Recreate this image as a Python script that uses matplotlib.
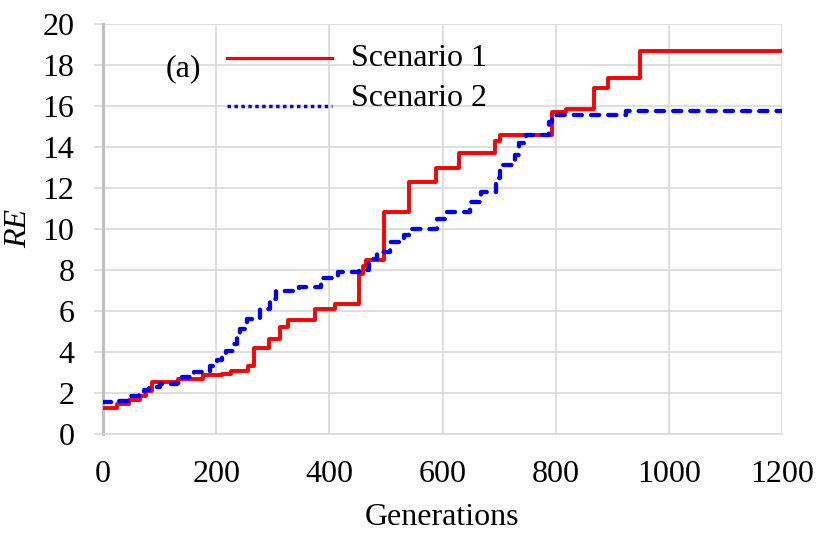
import matplotlib
matplotlib.use("Agg")
import numpy as np
import matplotlib.pyplot as plt
from matplotlib.lines import Line2D

# ---- data ----
gen_s1 = [0, 25, 46, 65, 76, 86, 133, 177, 210, 227, 256, 266, 294, 313, 327,
          375, 410, 453, 460, 465, 497, 541, 588, 629, 693, 701, 793, 818,
          868, 893, 949, 1200]
re_s1 = [1.25, 1.46, 1.67, 1.87, 2.1, 2.55, 2.68, 2.88, 2.95, 3.05, 3.33, 4.18,
         4.63, 5.2, 5.55, 6.1, 6.34, 7.8, 8.2, 8.5, 10.81, 12.28, 13.0, 13.7,
         14.28, 14.6, 15.7, 15.85, 16.86, 17.35, 18.67, 18.67]

gen_s2 = [0, 27, 50, 63, 73, 82, 100, 130, 140, 160, 189, 201, 210, 218, 230,
          236, 242, 254, 277, 295, 306, 347, 385, 415, 452, 470, 484, 508,
          532, 540, 590, 604, 648, 668, 695, 701, 728, 735, 748, 789, 793,
          925, 1200]
re_s2 = [1.55, 1.62, 1.87, 2.0, 2.15, 2.28, 2.44, 2.5, 2.77, 3.04, 3.3, 3.6,
         3.85, 4.06, 4.4, 4.7, 5.12, 5.6, 6.1, 6.6, 6.99, 7.15, 7.6, 7.89,
         8.0, 8.54, 8.86, 9.38, 9.7, 10.0, 10.49, 10.85, 11.3, 11.82, 12.5,
         13.1, 13.6, 14.2, 14.6, 15.2, 15.55, 15.77, 15.77]

series_labels = ["Scenario 1", "Scenario 2"]
x_ticks = [0, 200, 400, 600, 800, 1000, 1200]
y_ticks = [0, 2, 4, 6, 8, 10, 12, 14, 16, 18, 20]
x_label = "Generations"
y_label = "RE"
panel_label = "(a)"

# ---- style ----
plt.rcParams["font.family"] = ["Liberation Serif", "DejaVu Serif"]
FS = 23
GRID = "#d9d9d9"
RED = "#ff0000"
BLUE = "#0000ff"

fig = plt.figure(figsize=(8.17, 5.37), dpi=100)
ax = fig.add_axes([103 / 817, 1 - 434 / 537, 679 / 817, 410 / 537])

ax.plot(gen_s1, re_s1, drawstyle="steps-post", color=RED, lw=2.8, zorder=3)
ax.plot(gen_s2, re_s2, drawstyle="steps-post", color=BLUE, lw=3.1,
        linestyle=(0, (1.9, 2.1)), dash_capstyle="round", zorder=4)

ax.set_xlim(0, 1200)
ax.set_ylim(0, 20)
ax.set_xticks(x_ticks)
ax.set_yticks(y_ticks)
ax.tick_params(axis="both", labelsize=FS, colors="black")
ax.tick_params(axis="y", length=6.5, width=1.2, color=GRID, pad=14)
ax.tick_params(axis="x", length=0, pad=19)

ax.grid(True, color=GRID, lw=1.2, zorder=0)
ax.set_axisbelow(True)
for s in ("top", "right"):
    ax.spines[s].set_visible(False)
ax.spines["bottom"].set_color(GRID)
ax.spines["bottom"].set_linewidth(1.2)
ax.spines["left"].set_color("#bfbfbf")
ax.spines["left"].set_linewidth(2.2)

ax.set_xlabel(x_label, fontsize=FS)
ax.xaxis.label.set_va("baseline")
ax.xaxis.set_label_coords(0.5, (434 - 525) / 410)
ax.set_ylabel(y_label, fontsize=FS, style="italic")
ax.yaxis.set_label_coords((33 - 103) / 679, 0.5)

ax.text((183 - 103) / 679, (434 - 69) / 410, panel_label, transform=ax.transAxes,
        fontsize=FS, ha="center", va="center")

handles = [Line2D([], [], color=RED, lw=2.3),
           Line2D([], [], color=BLUE, lw=2.5, linestyle=(0, (1, 1)))]
leg = ax.legend(handles, series_labels, loc="upper left",
                bbox_to_anchor=(227 / 817, 1 - 44 / 537),
                bbox_transform=fig.transFigure, frameon=False, fontsize=FS,
                handlelength=3.3, handletextpad=0.58, labelspacing=0.33,
                borderpad=0, borderaxespad=0)
# the reference draws the sample lines slightly below the text centres
for line, off in zip(leg.get_lines(), [2.2, 8.0]):
    line.set_ydata(np.asarray(line.get_ydata(), dtype=float) - off)

fig.savefig("out.png", dpi=100)
